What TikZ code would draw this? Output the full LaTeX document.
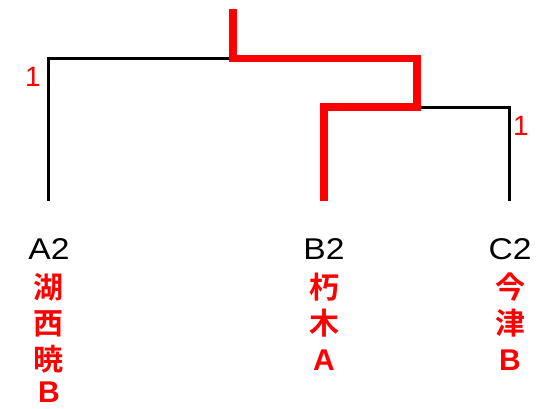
\documentclass[tikz,border=0pt]{standalone}
\usepackage{fontspec}
\setmainfont{Liberation Sans}
\newfontfamily\widesans{Liberation Sans}[FakeStretch=1.12]
\newfontfamily\cjk{Noto Sans CJK JP}[BoldFont={Noto Sans CJK JP Bold}]
\begin{document}
\begin{tikzpicture}[x=1pt,y=-1pt,
    branch/.style={line width=3pt,black},
    redpath/.style={line width=7.5pt,red},
    leaf/.style={font=\fontsize{30}{30}\selectfont\widesans,inner sep=0pt},
    site/.style={red,align=center,inner sep=0pt,anchor=north,
      font=\fontsize{30}{36}\selectfont\bfseries\cjk},
    count/.style={red,font=\fontsize{28}{28}\selectfont,inner sep=0pt}]
  \useasboundingbox (0,0) rectangle (544,408);
  % tree points
  \coordinate (top) at (233,9);
  \coordinate (root) at (233,58.5);
  \coordinate (join) at (417,107);
  \coordinate (a) at (48.5,201);
  \coordinate (b) at (324,201);
  \coordinate (c) at (509.5,201);
  % branches
  \draw[branch] (a) |- (root);
  \draw[branch] (join) -| (c);
  \draw[redpath] (top) -- (root) -| (join) -| (b);
  % branch counts
  \node[count] (lcount) at (33,77) {1};
  \node[count] (rcount) at (521,126) {1};
  % leaves
  \node[leaf] (A) at (49,249) {A2};
  \node[leaf] (B) at (324,249) {B2};
  \node[leaf] (C) at (510,249) {C2};
  \node[site] (Aname) at (49,273) {湖\\西\\暁\\[-3.5pt]{\normalfont\bfseries\fontsize{30}{36}\selectfont B}};
  \node[site] (Bname) at (324,273) {朽\\木\\{\normalfont\bfseries\fontsize{30}{36}\selectfont A}};
  \node[site] (Cname) at (510,273) {今\\津\\{\normalfont\bfseries\fontsize{30}{36}\selectfont B}};
\end{tikzpicture}
\end{document}
